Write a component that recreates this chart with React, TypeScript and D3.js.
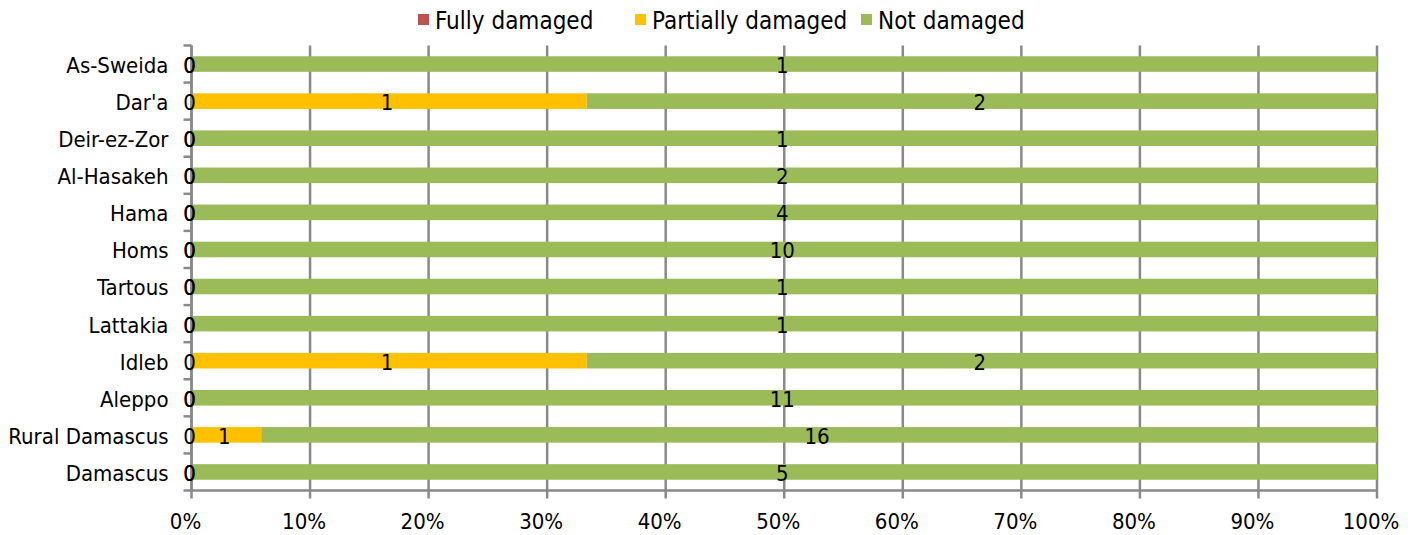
import React, { useEffect, useRef } from 'react';
import * as d3 from 'd3';

const regions = ['As-Sweida', "Dar'a", 'Deir-ez-Zor', 'Al-Hasakeh', 'Hama', 'Homs', 'Tartous', 'Lattakia', 'Idleb', 'Aleppo', 'Rural Damascus', 'Damascus'];
const fullyDamaged = [0, 0, 0, 0, 0, 0, 0, 0, 0, 0, 0, 0];
const partiallyDamaged = [0, 1, 0, 0, 0, 0, 0, 0, 1, 0, 1, 0];
const notDamaged = [1, 2, 1, 2, 4, 10, 1, 1, 2, 11, 16, 5];
const seriesNames = ['Fully damaged', 'Partially damaged', 'Not damaged'];
const seriesColors = ['#C0504D', '#FFC000', '#9BBB59'];
const xTicks = [0, 0.1, 0.2, 0.3, 0.4, 0.5, 0.6, 0.7, 0.8, 0.9, 1];

const FONT = '"DejaVu Sans Condensed", "DejaVu Sans", sans-serif';

export default function App() {
  const svgRef = useRef<SVGSVGElement>(null);

  useEffect(() => {
    if (!svgRef.current) return;
    const svg = d3.select(svgRef.current);
    svg.selectAll('*').remove();

    const width = 1424;
    const height = 535;
    const margin = { top: 45.5, right: 47, bottom: 44.5, left: 191.5 };

    const x = d3.scaleLinear().domain([0, 1]).range([margin.left, width - margin.right]);
    const y = d3.scaleBand<string>()
      .domain(regions)
      .range([margin.top, height - margin.bottom])
      .paddingInner(0.58)
      .paddingOuter(0.29);

    const rows = regions.map((r, i) => ({
      region: r,
      values: [fullyDamaged[i], partiallyDamaged[i], notDamaged[i]],
    }));

    const grid = '#898989';

    // vertical gridlines + bottom ticks
    svg.append('g')
      .selectAll('line')
      .data(xTicks)
      .enter().append('line')
      .attr('x1', d => x(d))
      .attr('x2', d => x(d))
      .attr('y1', margin.top)
      .attr('y2', height - margin.bottom + 8)
      .attr('stroke', grid)
      .attr('stroke-width', 2.5);

    // left axis ticks at band boundaries
    const step = y.step();
    const bounds = d3.range(regions.length + 1).map(i => margin.top + i * step);
    svg.append('g')
      .selectAll('line')
      .data(bounds)
      .enter().append('line')
      .attr('x1', margin.left - 8)
      .attr('x2', margin.left)
      .attr('y1', d => d)
      .attr('y2', d => d)
      .attr('stroke', grid)
      .attr('stroke-width', 2.5);

    // bottom axis line
    svg.append('line')
      .attr('x1', margin.left)
      .attr('x2', width - margin.right)
      .attr('y1', height - margin.bottom)
      .attr('y2', height - margin.bottom)
      .attr('stroke', grid)
      .attr('stroke-width', 2.5);

    // bars
    rows.forEach(row => {
      const total = d3.sum(row.values);
      let acc = 0;
      row.values.forEach((v, si) => {
        const x0 = x(acc / total);
        const x1 = x((acc + v) / total);
        acc += v;
        if (v > 0) {
          svg.append('rect')
            .attr('x', x0)
            .attr('y', y(row.region)!)
            .attr('width', x1 - x0)
            .attr('height', y.bandwidth())
            .attr('fill', seriesColors[si]);
        }
      });
    });

    // left axis line
    svg.append('line')
      .attr('x1', margin.left)
      .attr('x2', margin.left)
      .attr('y1', margin.top)
      .attr('y2', height - margin.bottom)
      .attr('stroke', grid)
      .attr('stroke-width', 2.5);

    // value labels
    rows.forEach(row => {
      const total = d3.sum(row.values);
      let acc = 0;
      row.values.forEach(v => {
        const cx = x((acc + v / 2) / total);
        acc += v;
        svg.append('text')
          .attr('x', cx - 2)
          .attr('y', y(row.region)! + y.bandwidth() / 2 + 1)
          .attr('dy', '0.36em')
          .attr('text-anchor', 'middle')
          .style('font-family', FONT)
          .style('font-size', '22px')
          .style('fill', '#000')
          .text(v);
      });
    });

    // category labels
    svg.append('g')
      .selectAll('text')
      .data(regions)
      .enter().append('text')
      .attr('x', margin.left - 23)
      .attr('y', d => y(d)! + y.bandwidth() / 2 + 1)
      .attr('dy', '0.36em')
      .attr('text-anchor', 'end')
      .style('font-family', FONT)
      .style('font-size', '22px')
      .style('fill', '#000')
      .text(d => d);

    // x tick labels
    svg.append('g')
      .selectAll('text')
      .data(xTicks)
      .enter().append('text')
      .attr('x', d => x(d) - 6)
      .attr('y', height - margin.bottom + 31)
      .attr('dy', '0.36em')
      .attr('text-anchor', 'middle')
      .style('font-family', FONT)
      .style('font-size', '22px')
      .style('fill', '#000')
      .text(d => d3.format('.0%')(d));

    // legend
    const legendX = [418, 635, 861];
    const legend = svg.append('g');
    seriesNames.forEach((name, i) => {
      legend.append('rect')
        .attr('x', legendX[i])
        .attr('y', 14)
        .attr('width', 11)
        .attr('height', 11)
        .attr('fill', seriesColors[i]);
      legend.append('text')
        .attr('x', legendX[i] + 17)
        .attr('y', 20)
        .attr('dy', '0.36em')
        .style('font-family', FONT)
        .style('font-size', '24px')
        .style('fill', '#000')
        .text(name);
    });
  }, []);

  return (
    <svg
      ref={svgRef}
      width={1424}
      height={535}
      style={{ position: 'absolute', left: 0, top: 0, background: '#fff' }}
    />
  );
}
